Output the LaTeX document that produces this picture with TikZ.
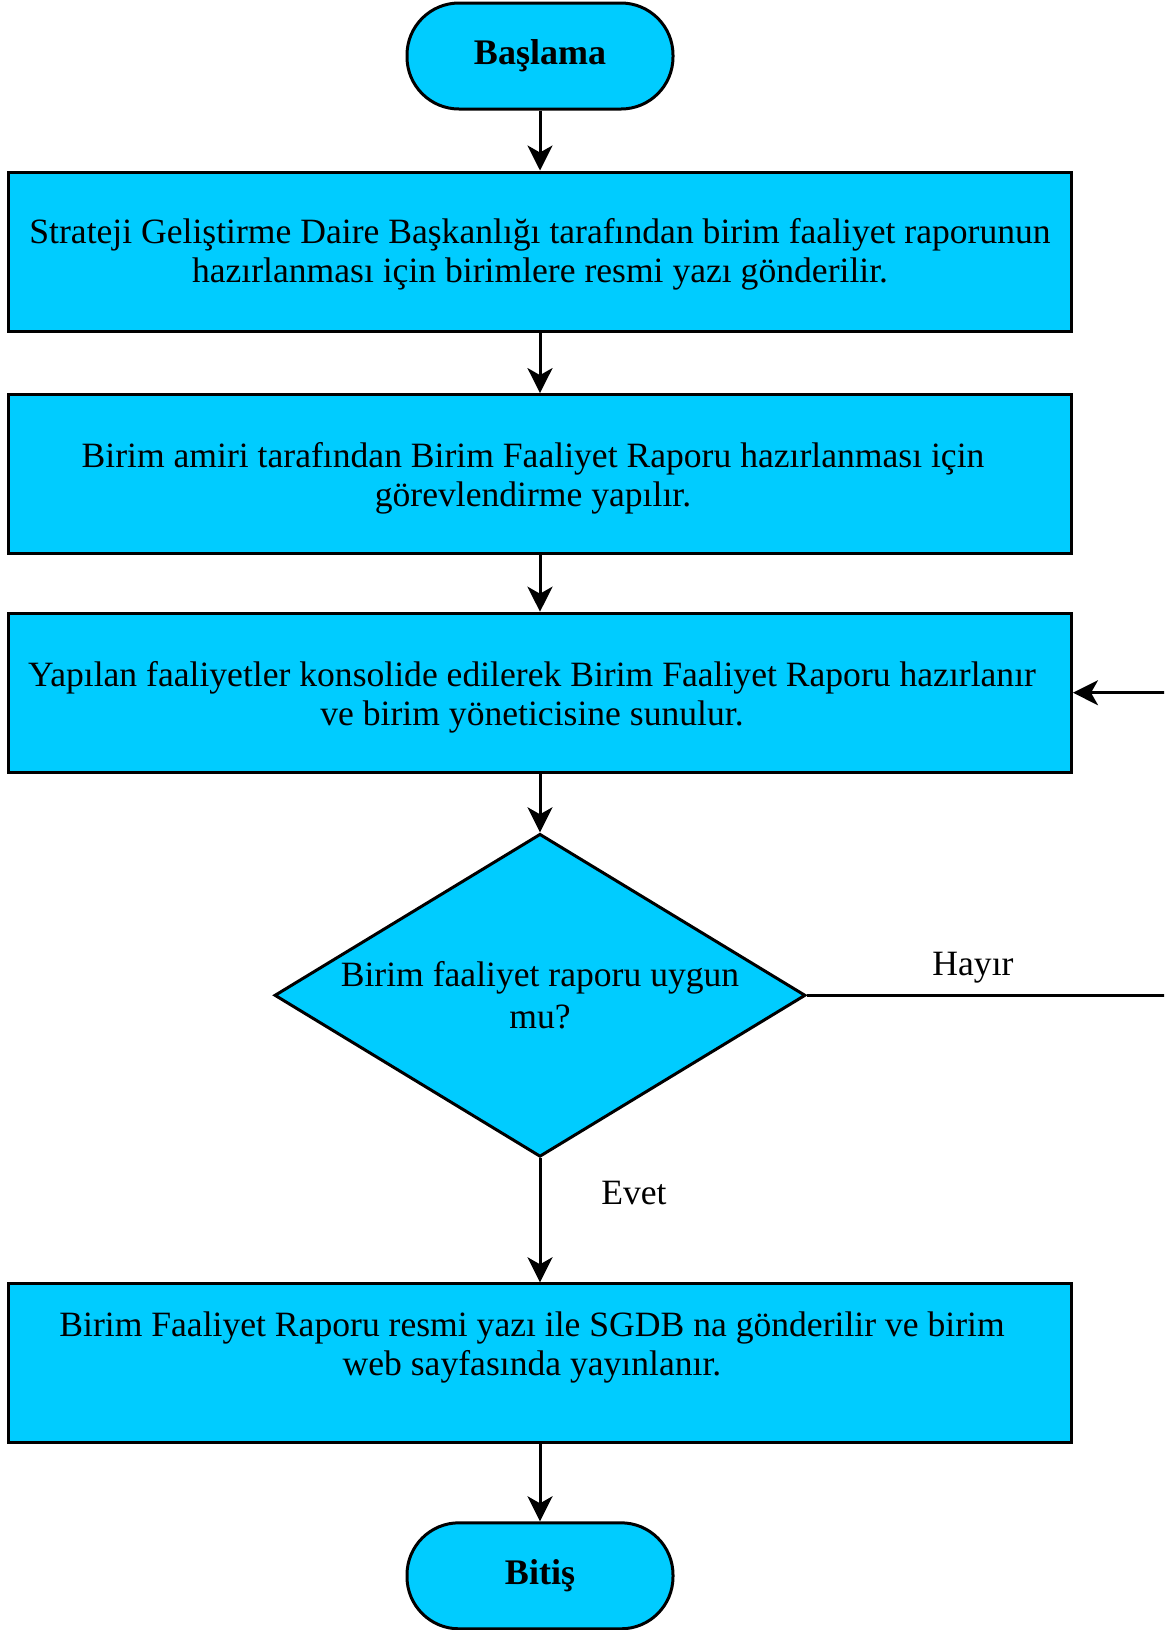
\documentclass[tikz,border=0pt]{standalone}
\usepackage{fontspec}
\setmainfont{Liberation Serif}
\usepackage{tikz}
\usetikzlibrary{arrows.meta,shapes,positioning,calc}
\definecolor{boxcyan}{HTML}{00CCFF}
% text block moved by (#1,#2) inside its box
\newcommand{\boxtext}[3]{\raisebox{#2}[\height][\depth]{\hspace*{#1}\begin{tabular}{@{}c@{}}#3\end{tabular}\hspace*{-#1}}}

\begin{document}
\begin{tikzpicture}[x=0.5pt, y=-0.5pt]
\tikzstyle{main}=[draw=black, line width=1.5pt, fill=boxcyan, font=\fontsize{17.8}{20.8}\selectfont, align=center]
\tikzstyle{term}=[main, rectangle, rounded corners=26pt, minimum width=133pt, minimum height=53pt, font=\fontsize{18}{20.8}\selectfont\bfseries]
\tikzstyle{proc}=[main, rectangle, minimum width=531.5pt, minimum height=79.5pt]
\tikzstyle{decision}=[main, diamond, aspect=1.644, inner sep=-3pt, minimum width=265.5pt, minimum height=161.5pt]
\tikzstyle{lbl}=[font=\fontsize{17.8}{20.8}\selectfont]
\tikzstyle{connect}=[-{Stealth[length=12.5pt, width=12.5pt, inset=3.5pt]}, line width=1.5pt]

  \useasboundingbox (0,0) rectangle (1164,1630);
  \clip (0,0) rectangle (1164,1630);

  \node[term] (start) at (540,56)            {Başlama};
  \node[proc] (letter) [below=30pt of start]  {\boxtext{0pt}{-1.5pt}{Strateji Geliştirme Daire Başkanlığı tarafından birim faaliyet raporunun\\[-1.3pt] hazırlanması için birimlere resmi yazı gönderilir.}};
  \node[proc] (assign) [below=30.3pt of letter] {\boxtext{-3.5pt}{-2.5pt}{Birim amiri tarafından Birim Faaliyet Raporu hazırlanması için\\[-1.3pt] görevlendirme yapılır.}};
  \node[proc] (prepare) [below=28.3pt of assign] {\boxtext{-4pt}{-2.5pt}{Yapılan faaliyetler konsolide edilerek Birim Faaliyet Raporu hazırlanır\\[-1.3pt] ve birim yöneticisine sunulur.}};
  \node[decision] (check) [below=29.3pt of prepare] {Birim faaliyet raporu uygun\\ mu?};
  \node[proc] (publish) [below=62pt of check] {\boxtext{-4pt}{8pt}{Birim Faaliyet Raporu resmi yazı ile SGDB na gönderilir ve birim\\[-1.3pt] web sayfasında yayınlanır.}};
  \node[term] (finish) [below=38.5pt of publish] {Bitiş};

  \coordinate (loop) at (1200,0);
  \node[lbl] (no)  at (973,968)  {Hayır};
  \node[lbl] (yes) at (634,1193) {Evet};

  \draw[connect] (start) -- (letter);
  \draw[connect] (letter) -- (assign);
  \draw[connect] (assign) -- (prepare);
  \draw[connect] (prepare) -- (check);
  \draw[connect] (check) -- (publish);
  \draw[connect] (publish) -- (finish);
  \draw[connect] (check.east) -- (check.east -| loop) -- (prepare.east -| loop) -- (prepare.east);

\end{tikzpicture}
\end{document}
